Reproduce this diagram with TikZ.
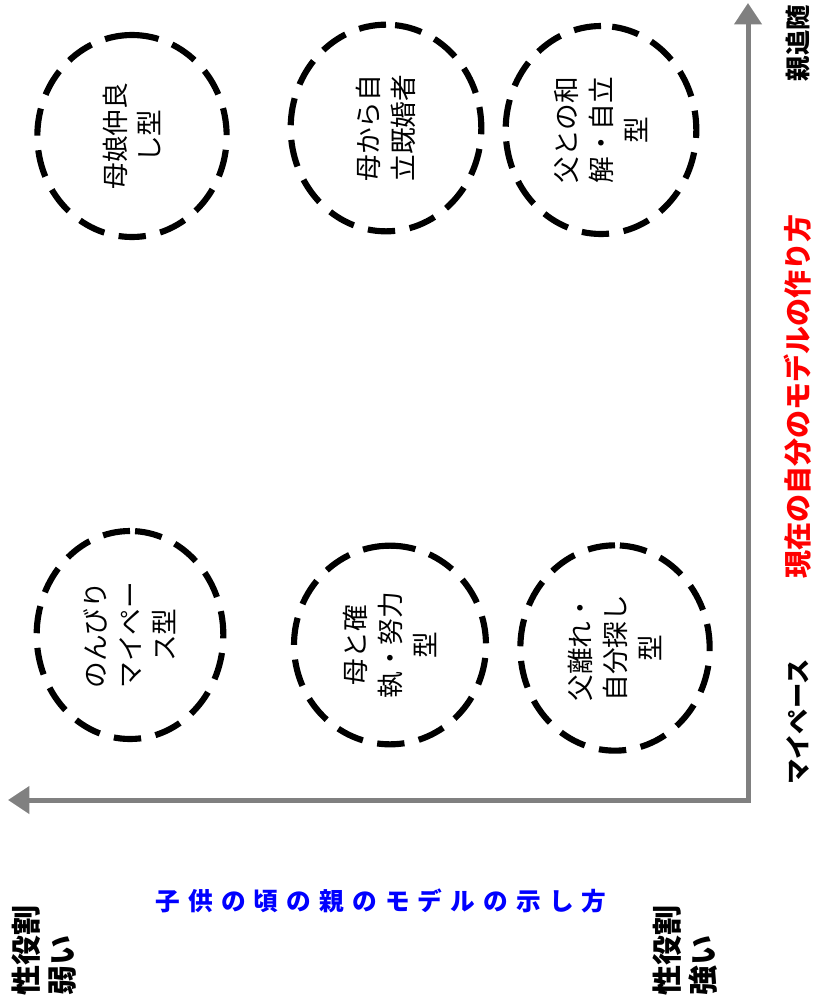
\documentclass[tikz,border=0pt]{standalone}
\usepackage{fontspec}
\newfontfamily\jp{Noto Sans CJK JP}
\newfontfamily\jpsp[LetterSpace=33]{Noto Sans CJK JP}
\usetikzlibrary{arrows.meta,shapes.geometric}
\definecolor{axisgray}{RGB}{128,128,128}
\definecolor{lblue}{RGB}{0,0,255}
\definecolor{lred}{RGB}{255,0,0}
\begin{document}
\begin{tikzpicture}[x=0.75pt,y=-0.75pt,
  dcirc/.style={ellipse, draw=black, line width=4.6pt, dash pattern=on 20.5pt off 11pt,
    inner sep=0pt, rotate=90, align=center, minimum width=154pt, minimum height=143pt,
    font=\jp\fontsize{20}{26}\selectfont},
  axisline/.style={draw=axisgray, line width=3.75pt, line join=miter,
    {Triangle[length=16pt,width=20pt]}-{Triangle[length=16pt,width=20pt]}},
  sidelabel/.style={rotate=90, inner sep=0pt, align=left, anchor=north west,
    font=\jp\bfseries\fontsize{22.5}{27}\selectfont},
  axislabel/.style={rotate=90, inner sep=0pt, font=\jp\bfseries\fontsize{19}{22}\selectfont}
]
\useasboundingbox (0,0) rectangle (813,999);

% axes
\coordinate (o) at (748,800);
\coordinate (ytip) at (748,3);
\coordinate (xtip) at (8,800);
\draw[axisline] (ytip) -- (o) -- (xtip);

% circles
\node[dcirc, minimum width=151.5pt, minimum height=142pt] (c1) at (132,136) {母娘仲良\\し型};
\node[dcirc, minimum width=155pt, minimum height=143pt] (c2) at (386,128) {母から自\\立既婚者};
\node[dcirc, minimum width=156pt, minimum height=143pt] (c3) at (601,130) {父との和\\解・自立\\型};
\node[dcirc, minimum width=156pt, minimum height=140pt] (c4) at (130,635) {のんびり\\マイペー\\ス型};
\node[dcirc, minimum width=149pt, minimum height=144pt] (c5) at (390,645) {母と確\\執・努力\\型};
\node[dcirc, minimum width=154pt, minimum height=142pt] (c6) at (615,648) {父離れ・\\自分探し\\型};

% left labels
\node[sidelabel] (weak) at (12,996) {性役割\\弱い};
\node[sidelabel] (strong) at (653,996) {性役割\\強い};
\node[font=\jpsp\bfseries\fontsize{18.5}{22}\selectfont, text=lblue, inner sep=0pt] (childhood) at (381,901) {子供の頃の親のモデルの示し方};

% right labels
\node[axislabel] (follow) at (798,43) {親追随};
\node[axislabel, font=\jp\bfseries\fontsize{21}{25}\selectfont, text=lred] (current) at (798,396) {現在の自分のモデルの作り方};
\node[axislabel] (mypace) at (798,722) {マイペース};
\end{tikzpicture}
\end{document}
